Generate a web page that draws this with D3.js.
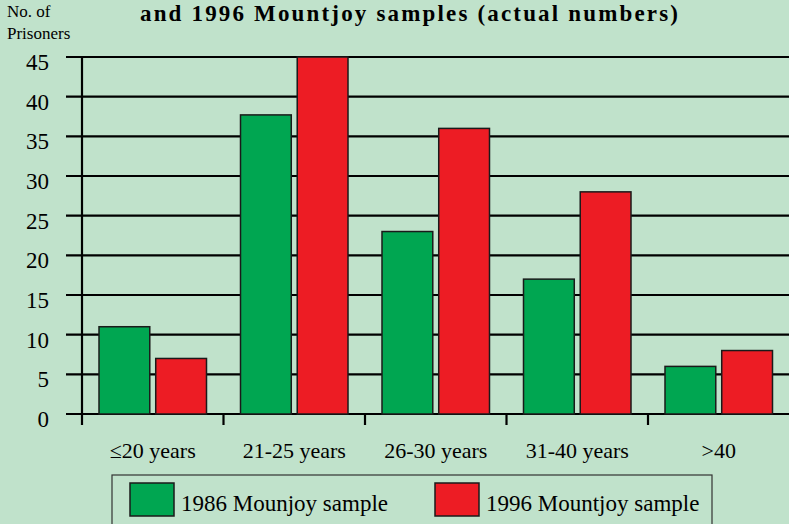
<!DOCTYPE html>
<html>
<head>
<meta charset="utf-8">
<script src="https://cdn.jsdelivr.net/npm/d3@7"></script>
<style>
  html, body { margin: 0; padding: 0; background: #c0e2cb; }
</style>
</head>
<body>
<div id="chart"></div>
<script>
const categories = ['\u226420 years', '21-25 years', '26-30 years', '31-40 years', '>40'];
const seriesNames = ['1986 Mounjoy sample', '1996 Mountjoy sample'];
const values1986 = [11, 37.7, 23, 17, 6];
const values1996 = [7, 45, 36, 28, 8];
const yTicks = [0, 5, 10, 15, 20, 25, 30, 35, 40, 45];
const colors = ['#00a651', '#ed1c24'];

const width = 789, height = 524;
const serif = "'Liberation Serif', 'DejaVu Serif', serif";

const svg = d3.select('#chart')
  .append('svg')
  .attr('width', width)
  .attr('height', height)
  .attr('font-family', serif)
  .style('display', 'block');

svg.append('rect')
  .attr('width', width)
  .attr('height', height)
  .attr('fill', '#c0e2cb');

// title (only its second line shows in the frame)
svg.append('text')
  .attr('x', 409)
  .attr('y', 21)
  .attr('text-anchor', 'middle')
  .attr('font-size', '23px')
  .attr('font-weight', 'bold')
  .attr('textLength', 538)
  .attr('lengthAdjust', 'spacing')
  .text('and 1996 Mountjoy samples (actual numbers)');

// y axis caption
const cap = svg.append('text')
  .attr('font-size', '17px');
cap.append('tspan').attr('x', 7).attr('y', 17).text('No. of');
cap.append('tspan').attr('x', 7).attr('y', 39).text('Prisoners');

const x = d3.scaleBand()
  .domain(categories)
  .range([82, 789.5])
  .padding(0);

const xInner = d3.scaleBand()
  .domain(seriesNames)
  .range([17, 124.5])
  .paddingInner(0.105);

const y = d3.scaleLinear()
  .domain([0, 45])
  .range([414, 57]);

// gridlines + y labels
const grid = svg.append('g');
grid.selectAll('line')
  .data(yTicks)
  .enter()
  .append('line')
  .attr('x1', 66)
  .attr('x2', width)
  .attr('y1', d => y(d))
  .attr('y2', d => y(d))
  .attr('stroke', '#000')
  .attr('stroke-width', 2.2);

grid.selectAll('text')
  .data(yTicks)
  .enter()
  .append('text')
  .attr('x', 49)
  .attr('y', d => y(d) + 13)
  .attr('text-anchor', 'end')
  .attr('font-size', '23px')
  .text(d => d);

// vertical axis line
svg.append('line')
  .attr('x1', 82).attr('x2', 82)
  .attr('y1', y(45) - 1).attr('y2', 425)
  .attr('stroke', '#000')
  .attr('stroke-width', 2.2);

// category ticks below zero line
svg.append('g')
  .selectAll('line')
  .data(categories.slice(1))
  .enter()
  .append('line')
  .attr('x1', d => x(d))
  .attr('x2', d => x(d))
  .attr('y1', 414)
  .attr('y2', 425)
  .attr('stroke', '#000')
  .attr('stroke-width', 2.2);

// bars
const data = categories.map((c, i) => ({ cat: c, vals: [values1986[i], values1996[i]] }));

const groups = svg.selectAll('.grp')
  .data(data)
  .enter()
  .append('g')
  .attr('class', 'grp')
  .attr('transform', d => `translate(${x(d.cat)},0)`);

groups.selectAll('rect')
  .data(d => d.vals.map((v, j) => ({ s: seriesNames[j], v: v, j: j })))
  .enter()
  .append('rect')
  .attr('x', d => xInner(d.s))
  .attr('y', d => y(d.v))
  .attr('width', xInner.bandwidth())
  .attr('height', d => y(0) - y(d.v))
  .attr('fill', d => colors[d.j])
  .attr('stroke', '#1a1a1a')
  .attr('stroke-width', 1.5);

// x labels
svg.append('g')
  .selectAll('text')
  .data(categories)
  .enter()
  .append('text')
  .attr('x', d => x(d) + x.bandwidth() / 2)
  .attr('y', 458)
  .attr('text-anchor', 'middle')
  .attr('font-size', '22px')
  .text(d => d);

// legend
const legend = svg.append('g');
legend.append('rect')
  .attr('x', 112)
  .attr('y', 475)
  .attr('width', 600)
  .attr('height', 60)
  .attr('fill', 'none')
  .attr('stroke', '#333')
  .attr('stroke-width', 1.2);

const legX = [130, 435];
seriesNames.forEach((s, i) => {
  legend.append('rect')
    .attr('x', legX[i])
    .attr('y', 483)
    .attr('width', 44)
    .attr('height', 33)
    .attr('fill', colors[i])
    .attr('stroke', '#1a1a1a')
    .attr('stroke-width', 1.5);
  legend.append('text')
    .attr('x', legX[i] + 51)
    .attr('y', 511)
    .attr('font-size', '23px')
    .text(s);
});
</script>
</body>
</html>
